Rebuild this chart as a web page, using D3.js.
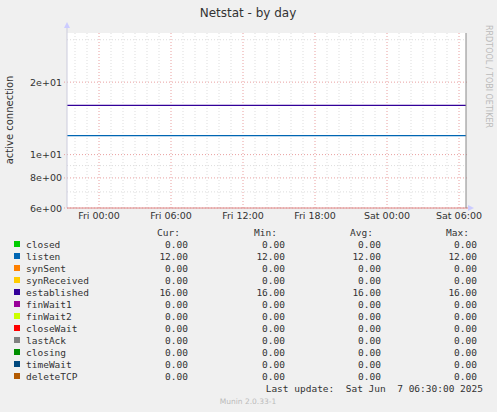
<!DOCTYPE html>
<html><head><meta charset="utf-8">
<script src="https://d3js.org/d3.v7.min.js"></script>
<style>body{margin:0;background:#f0f0f0}text{font-family:"DejaVu Sans Mono",monospace;fill:#333;white-space:pre}text.sans{font-family:"DejaVu Sans",sans-serif}</style>
</head><body>
<svg id="c" width="497" height="412"></svg>
<script>
"use strict"
// series (constant over the day)
const names = ['closed','listen','synSent','synReceived','established','finWait1','finWait2','closeWait','lastAck','closing','timeWait','deleteTCP']
const colors = ['#00cc00','#0066b3','#ff8000','#ffcc00','#330099','#990099','#ccff00','#ff0000','#808080','#008f00','#00487d','#b35a00']
const curV = [0,12,0,0,16,0,0,0,0,0,0,0]
const minV = [0,12,0,0,16,0,0,0,0,0,0,0]
const avgV = [0,12,0,0,16,0,0,0,0,0,0,0]
const maxV = [0,12,0,0,16,0,0,0,0,0,0,0]
const yMajor = [6,8,10,20]
const yMinor = [7,9,30]
const yLabels = ['6e+00','8e+00','1e+01','2e+01']
const t0 = new Date(2025,5,5,21,20), t1 = new Date(2025,5,7,6,35)

const svg = d3.select('#c')
const x = d3.scaleTime().domain([t0,t1]).range([67,466])
const y = d3.scaleLog().domain([6,32]).range([208,33])

svg.append('rect').attr('x',67).attr('y',33).attr('width',399).attr('height',175).attr('fill','#fff')

// grid
const hours = d3.timeHour.range(t0,t1)
svg.selectAll('.vm').data(hours.filter(h=>h.getHours()%6)).join('line')
  .attr('x1',d=>x(d)).attr('x2',d=>x(d)).attr('y1',33).attr('y2',208)
  .attr('stroke','#ddd').attr('stroke-dasharray','1,2')
svg.selectAll('.yn').data(yMinor).join('line')
  .attr('x1',67).attr('x2',466).attr('y1',d=>y(d)).attr('y2',d=>y(d))
  .attr('stroke','#ddd').attr('stroke-dasharray','1,2')
const majT = hours.filter(h=>h.getHours()%6==0)
svg.selectAll('.vM').data(majT).join('line')
  .attr('x1',d=>x(d)).attr('x2',d=>x(d)).attr('y1',33).attr('y2',208)
  .attr('stroke','#e9a0a0').attr('stroke-dasharray','1,2')
svg.selectAll('.yM').data(yMajor).join('line')
  .attr('x1',64).attr('x2',469).attr('y1',d=>y(d)).attr('y2',d=>y(d))
  .attr('stroke','#e9a0a0').attr('stroke-dasharray','1,2')

// tick labels
svg.selectAll('.yl').data(yMajor).join('text').attr('class','sans')
  .attr('x',62).attr('y',d=>y(d)+3.5).attr('text-anchor','end').attr('font-size',9.5)
  .text((d,i)=>yLabels[i])
const fmt = d3.timeFormat('%a %H:%M')
svg.selectAll('.xl').data(majT).join('text').attr('class','sans')
  .attr('x',d=>x(d)).attr('y',219).attr('text-anchor','middle').attr('font-size',9.5)
  .text(d=>fmt(d))

// series lines
names.forEach((n,i)=>{
  const v = avgV[i]
  if (v<=0) return
  svg.append('line').attr('x1',x(t0)).attr('x2',x(t1)).attr('y1',y(v)).attr('y2',y(v))
    .attr('stroke',colors[i]).attr('stroke-width',1.2)
})

// axes
svg.append('line').attr('x1',67).attr('x2',67).attr('y1',26).attr('y2',208).attr('stroke','#ccd')
svg.append('path').attr('d','M64,28 L67,22 L70,28Z').attr('fill','#ccf')
svg.append('line').attr('x1',67).attr('x2',470).attr('y1',208).attr('y2',208).attr('stroke','#d88')
svg.append('path').attr('d','M468,205 L474,208 L468,211Z').attr('fill','#ccf')
svg.append('line').attr('x1',466).attr('x2',466).attr('y1',33).attr('y2',208).attr('stroke','#888')

// titles
svg.append('text').attr('class','sans').attr('x',248).attr('y',17).attr('text-anchor','middle').attr('font-size',12).text('Netstat - by day')
svg.append('text').attr('class','sans').attr('transform','translate(13,120) rotate(-90)').attr('text-anchor','middle').attr('font-size',10).text('active connection')
svg.append('text').attr('class','sans').attr('transform','translate(486,25) rotate(90)').attr('font-size',8).style('fill','#bbb').text('RRDTOOL / TOBI OETIKER')

// legend
const cols = [188,285,381,477]
;['Cur:','Min:','Avg:','Max:'].forEach((h,j)=>svg.append('text').attr('x',cols[j]-8).attr('y',236)
  .attr('text-anchor','end').attr('font-size',9.5).text(h))
const row = svg.selectAll('.lg').data(names).join('g').attr('transform',(d,i)=>`translate(0,${248+i*12})`)
row.append('rect').attr('x',14).attr('y',-7).attr('width',6).attr('height',6).attr('fill',(d,i)=>colors[i])
row.append('text').attr('x',26).attr('font-size',9.5).text(d=>d)
;[curV,minV,avgV,maxV].forEach((arr,j)=>row.append('text').attr('x',cols[j]).attr('text-anchor','end')
  .attr('font-size',9.5).text((d,i)=>arr[i].toFixed(2)))
svg.append('text').attr('x',483).attr('y',392).attr('text-anchor','end').attr('font-size',9.5)
  .text('Last update:  Sat Jun  7 06:30:00 2025')
svg.append('text').attr('class','sans').attr('x',248).attr('y',404).attr('text-anchor','middle').attr('font-size',7.5)
  .style('fill','#bbb').text('Munin 2.0.33-1')
</script></body></html>
